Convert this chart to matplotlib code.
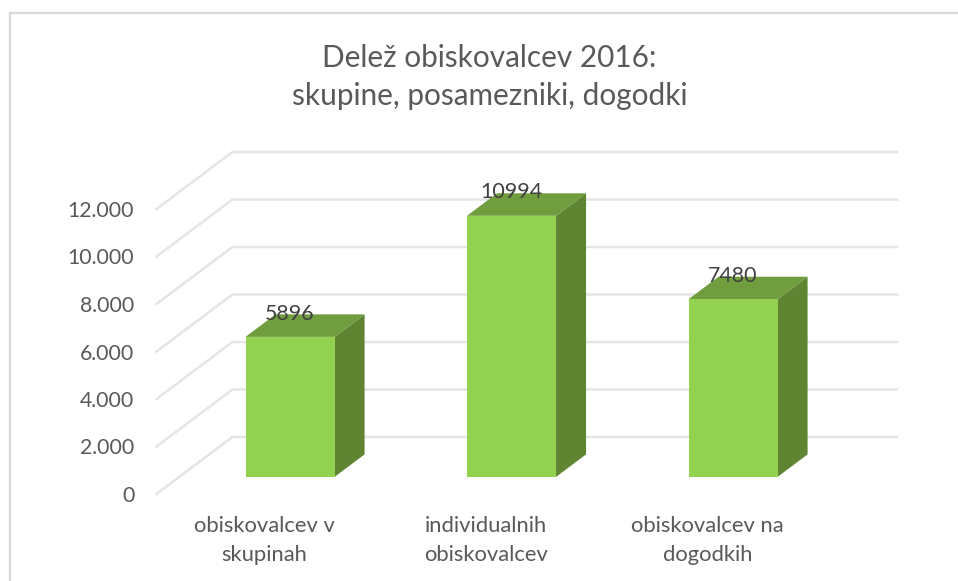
import matplotlib
matplotlib.use('Agg')
import matplotlib.pyplot as plt
from matplotlib.lines import Line2D
from matplotlib.transforms import ScaledTranslation

# Podatki
kategorije = ['obiskovalcev v\nskupinah', 'individualnih\nobiskovalcev', 'obiskovalcev na\ndogodkih']
vrednosti = [5896, 10994, 7480]
oznake_y = [0, 2000, 4000, 6000, 8000, 10000, 12000]
oznake_y_txt = ['0', '2.000', '4.000', '6.000', '8.000', '10.000', '12.000']
naslov = 'Delež obiskovalcev 2016:\nskupine, posamezniki, dogodki'

W, H = 958, 581
TXT = '#595959'
plt.rcParams['font.family'] = ['Lato', 'DejaVu Sans']

fig = plt.figure(figsize=(W / 100, H / 100), dpi=100)
fig.patch.set_facecolor('white')

# okvir grafa: desni rob je odrezan, vidna sta le levi in zgornji
fig.add_artist(Line2D([10 / W, 10 / W, 1], [0, 1 - 13 / H, 1 - 13 / H], transform=fig.transFigure,
                      color='#D9D9D9', lw=1.6, solid_joinstyle='miter'))

# sprednja ravnina, globina se doda posebej
ax = fig.add_axes([156.5 / W, 1 - 494 / H, 664.5 / W, 285 / H])
ax.set_xlim(-0.5, 2.5)
ax.set_ylim(0, 12000)
ax.patch.set_alpha(0)
for s in ax.spines.values():
    s.set_visible(False)

# premik za globino 1 (v enotah osi)
DX = 0.343
DY = 2400


def proj(x, y, d):
    return x + DX * d, y + DY * d


# mreza
for v in oznake_y:
    x0, y0 = proj(-0.5, v, 0)
    x1, y1 = proj(-0.5, v, 1)
    x2, y2 = proj(2.5, v, 1)
    ax.plot([x0, x1, x2], [y0, y1, y2], color='#E5E5E5', lw=1.8, clip_on=False, zorder=1,
            solid_joinstyle='miter')

# stolpci
sirina = 0.402
d0, d1 = 0.3, 0.695
for i, v in enumerate(vrednosti):
    l, r = i - sirina / 2, i + sirina / 2
    sprednja = [proj(l, 0, d0), proj(r, 0, d0), proj(r, v, d0), proj(l, v, d0)]
    zgornja = [proj(l, v, d0), proj(r, v, d0), proj(r, v, d1), proj(l, v, d1)]
    stranska = [proj(r, 0, d0), proj(r, 0, d1), proj(r, v, d1), proj(r, v, d0)]
    ax.fill(*zip(*stranska), color='#5F8532', lw=0, clip_on=False, zorder=3)
    ax.fill(*zip(*zgornja), color='#709D3D', lw=0, clip_on=False, zorder=3)
    ax.fill(*zip(*sprednja), color='#92D250', lw=0, clip_on=False, zorder=4)
    tx, ty = proj(i, v, d0)
    ax.annotate(str(v), (tx, ty), xytext=(0, 16.8), textcoords='offset points', ha='center', va='center',
                fontsize=15.4, color='#404040', zorder=5, annotation_clip=False)

ax.set_yticks(oznake_y)
ax.set_yticklabels(oznake_y_txt, fontsize=15.3, color=TXT)
ax.set_xticks(range(len(kategorije)))
ax.set_xticklabels(kategorije, fontsize=15.8, color=TXT, linespacing=1.6)
ax.tick_params(axis='both', length=0)
ax.tick_params(axis='y', pad=16)
ax.tick_params(axis='x', pad=15.5)

# oznake kategorij so malo levo od sredine
zamik = ScaledTranslation(-3 / 100, 0, fig.dpi_scale_trans)
for t in ax.get_xticklabels():
    t.set_transform(t.get_transform() + zamik)

fig.text(489.5 / W, 1 - 77 / H, naslov, ha='center', va='center', fontsize=21.4, color=TXT, linespacing=1.45)

fig.savefig('out.png', dpi=100)
